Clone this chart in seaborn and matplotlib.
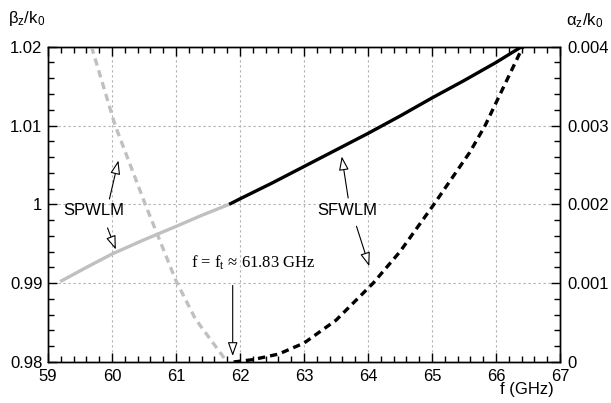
import numpy as np
import pandas as pd
import matplotlib
matplotlib.use("Agg")
import matplotlib.pyplot as plt
from matplotlib.ticker import FixedLocator, FixedFormatter, MultipleLocator
import seaborn as sns

# ---------------- data ----------------
# SPWLM, propagation constant (left axis), gray solid
spwlm_beta_f = [59.19, 59.6, 60.0, 60.5, 61.0, 61.4, 61.83]
spwlm_beta = [0.9902, 0.9920, 0.9937, 0.9955, 0.9972, 0.9986, 1.0000]
# SFWLM, propagation constant (left axis), black solid
sfwlm_beta_f = [61.83, 62.0, 62.5, 63.0, 63.5, 64.0, 64.5, 65.0, 65.5, 66.0, 66.40]
sfwlm_beta = [1.0000, 1.0007, 1.0027, 1.0048, 1.0069, 1.0090, 1.0112, 1.0135, 1.0157, 1.0180, 1.0200]
# SPWLM, attenuation (right axis), gray dashed
spwlm_alpha_f = [59.68, 60.05, 60.52, 61.0, 61.3, 61.58, 61.8]
spwlm_alpha = [0.0040, 0.0030, 0.0020, 0.00103, 0.00055, 0.00024, 0.0]
# SFWLM, attenuation (right axis), black dashed
sfwlm_alpha_f = [61.9, 62.2, 62.6, 63.0, 63.5, 64.08, 64.5, 65.03, 65.59, 65.83, 66.42]
sfwlm_alpha = [0.0, 0.00003, 0.00010, 0.00024, 0.00053, 0.0010, 0.00140, 0.0020, 0.00266, 0.0030, 0.0040]

x_ticks = [59, 60, 61, 62, 63, 64, 65, 66, 67]
x_tick_labels = ["59", "60", "61", "62", "63", "64", "65", "66", "67"]
left_ticks = [0.98, 0.99, 1.00, 1.01, 1.02]
left_tick_labels = ["0.98", "0.99", "1", "1.01", "1.02"]
right_ticks = [0.0, 0.001, 0.002, 0.003, 0.004]
right_tick_labels = ["0", "0.001", "0.002", "0.003", "0.004"]

# ---------------- style ----------------
sns.set_theme(style="ticks")
plt.rcParams["font.family"] = ["Liberation Sans", "DejaVu Sans"]
plt.rcParams["mathtext.fontset"] = "custom"
plt.rcParams["mathtext.rm"] = "Liberation Sans"
plt.rcParams["mathtext.it"] = "Liberation Sans"
plt.rcParams["axes.linewidth"] = 1.0
plt.rcParams["text.color"] = "black"
plt.rcParams["axes.labelcolor"] = "black"

GRAY = "#c0c0c0"
LW = 2.4
DASH = (0, (2.2, 1.5))

fig = plt.figure(figsize=(6.11, 4.03), dpi=100)
ax = fig.add_axes([48 / 611, 41 / 403, 512 / 611, 315.3 / 403])
ax2 = ax.twinx()

df1 = pd.DataFrame({"f": spwlm_beta_f, "v": spwlm_beta})
df2 = pd.DataFrame({"f": sfwlm_beta_f, "v": sfwlm_beta})
df3 = pd.DataFrame({"f": spwlm_alpha_f, "v": spwlm_alpha})
df4 = pd.DataFrame({"f": sfwlm_alpha_f, "v": sfwlm_alpha})

sns.lineplot(data=df1, x="f", y="v", ax=ax, color=GRAY, linewidth=LW,
             estimator=None, legend=False, solid_capstyle="butt")
sns.lineplot(data=df2, x="f", y="v", ax=ax, color="black", linewidth=LW,
             estimator=None, legend=False, solid_capstyle="butt")
sns.lineplot(data=df3, x="f", y="v", ax=ax2, color=GRAY, linewidth=LW,
             estimator=None, legend=False, linestyle=DASH)
sns.lineplot(data=df4, x="f", y="v", ax=ax2, color="black", linewidth=LW,
             estimator=None, legend=False, linestyle=DASH)

# limits and ticks
ax.set_xlim(59, 67)
ax.set_ylim(0.98, 1.02)
ax2.set_ylim(0.0, 0.004)

ax.xaxis.set_major_locator(FixedLocator(x_ticks))
ax.xaxis.set_major_formatter(FixedFormatter(x_tick_labels))
ax.xaxis.set_minor_locator(MultipleLocator(0.2))
ax.yaxis.set_major_locator(FixedLocator(left_ticks))
ax.yaxis.set_major_formatter(FixedFormatter(left_tick_labels))
ax.yaxis.set_minor_locator(MultipleLocator(0.002))
ax2.yaxis.set_major_locator(FixedLocator(right_ticks))
ax2.yaxis.set_major_formatter(FixedFormatter(right_tick_labels))
ax2.yaxis.set_minor_locator(MultipleLocator(0.0002))

ax.set_xlabel("")
ax.set_ylabel("")
ax2.set_xlabel("")
ax2.set_ylabel("")

ax.tick_params(axis="x", which="both", direction="in", top=True, bottom=True,
               labelsize=12, pad=5, colors="black", width=1.0)
ax.tick_params(axis="y", which="both", direction="in", left=True, right=False,
               labelsize=12, pad=4, colors="black", width=1.0)
ax.tick_params(which="major", length=6.5)
ax.tick_params(which="minor", length=4)
ax2.tick_params(axis="y", which="both", direction="in", right=True, left=False,
                labelsize=12, pad=5, colors="black", width=1.0)
ax2.tick_params(axis="y", which="major", length=6.5)
ax2.tick_params(axis="y", which="minor", length=4)
ax2.tick_params(axis="x", which="both", bottom=False, top=False, labelbottom=False)

for a in (ax, ax2):
    for s in a.spines.values():
        s.set_visible(True)
        s.set_color("black")
        s.set_linewidth(1.0)

ax.grid(True, which="major", color="#b0b0b0", linestyle=(0, (2, 2.5)), linewidth=0.8)
ax.set_axisbelow(True)

# annotations
arrow = dict(arrowstyle="-|>,head_length=0.7,head_width=0.25", fc="white",
             ec="black", lw=0.8, mutation_scale=12, shrinkA=0, shrinkB=0)

ax.text(59.72, 0.9992, "SPWLM", fontsize=12, ha="center", va="center")
ax.annotate("", xy=(60.10, 1.00557), xytext=(59.96, 1.00068), arrowprops=arrow)
ax.annotate("", xy=(60.06, 0.99427), xytext=(59.93, 0.99701), arrowprops=arrow)

ax.text(63.67, 0.9992, "SFWLM", fontsize=12, ha="center", va="center")
ax.annotate("", xy=(63.59, 1.00608), xytext=(63.69, 1.00081), arrowprops=arrow)
ax.annotate("", xy=(64.02, 0.99215), xytext=(63.82, 0.99722), arrowprops=arrow)

ax.text(62.21, 0.9926, "f = f$_\\mathregular{t}$ \u2248 61.83 GHz", fontsize=12,
        ha="center", va="center", family=["Liberation Serif", "DejaVu Serif"])
ax.annotate("", xy=(61.886, 0.98076), xytext=(61.886, 0.98971), arrowprops=arrow)

# axis titles
fig.text(8 / 611, 1 - 23 / 403, "$\\mathregular{\u03b2_z/k_0}$", fontsize=12,
         ha="left", va="baseline")
fig.text(566 / 611, 1 - 25 / 403, "$\\mathregular{\u03b1_z/k_0}$", fontsize=12,
         ha="left", va="baseline")
fig.text(527 / 611, 1 - 394 / 403, "f (GHz)", fontsize=12, ha="center", va="baseline")

fig.savefig("out.png", dpi=100)
